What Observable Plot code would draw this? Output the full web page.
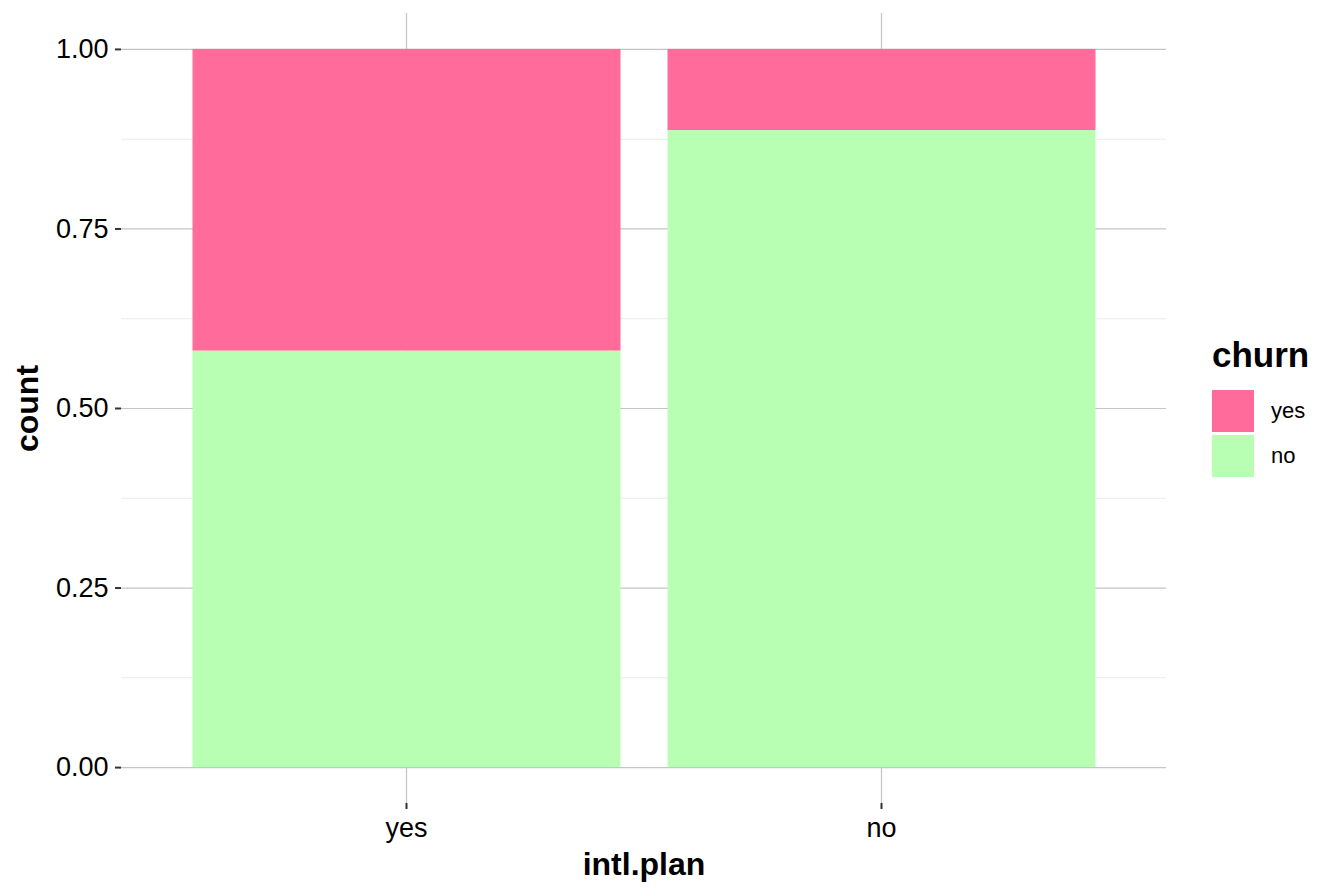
<!DOCTYPE html>
<html>
<head>
<meta charset="utf-8">
<script src="https://cdn.jsdelivr.net/npm/d3@7"></script>
<script src="https://cdn.jsdelivr.net/npm/@observablehq/plot@0.6"></script>
<style>
  html, body { margin: 0; padding: 0; background: #fff; }
  #wrap { position: relative; width: 1344px; height: 895px; font-family: "Liberation Sans", Arial, Helvetica, sans-serif; }
  #legend { position: absolute; left: 1212px; top: 335px; color: #000; }
  #legend .title { font-weight: bold; font-size: 35px; line-height: 40px; height: 40px; margin-bottom: 13px; }
  #legend .row { display: flex; align-items: center; height: 45px; }
  #legend .key { width: 42px; height: 42px; margin-right: 17px; }
  #legend .lab { font-size: 22px; }
</style>
</head>
<body>
<div id="wrap"></div>
<script>
// Data
const intlPlan = ["yes", "no"];
const churnLevels = ["yes", "no"];
const churnYesShare = [0.42, 0.113];
const churnNoShare = [0.58, 0.887];
const churnColors = ["#FF6B9B", "#B8FFB3"];
const yTicks = [0, 0.25, 0.5, 0.75, 1];
const yMinorTicks = [0.125, 0.375, 0.625, 0.875];

const rows = [];
intlPlan.forEach((p, i) => {
  rows.push({plan: p, churn: "no", value: churnNoShare[i]});
  rows.push({plan: p, churn: "yes", value: churnYesShare[i]});
});

const font = '"Liberation Sans", Arial, Helvetica, sans-serif';

const chart = Plot.plot({
  width: 1344,
  height: 895,
  marginLeft: 121,
  marginRight: 178,
  marginTop: 13,
  marginBottom: 92,
  style: {fontFamily: font, fontSize: "27px", color: "#000", background: "#fff"},
  x: {domain: intlPlan, paddingInner: 0.1, paddingOuter: 0.15, align: 0.5, axis: null},
  y: {domain: [-0.05, 1.05], axis: null},
  color: {domain: churnLevels, range: churnColors},
  marks: [
    Plot.ruleY(yMinorTicks, {stroke: "#ebebeb", strokeWidth: 1.1}),
    Plot.ruleY(yTicks, {stroke: "#c4c4c4", strokeWidth: 1.2}),
    Plot.ruleX(intlPlan, {x: d => d, stroke: "#c4c4c4", strokeWidth: 1.2}),
    Plot.barY(rows, Plot.stackY({order: ["no", "yes"]}, {x: "plan", y: "value", fill: "churn", z: "churn", inset: 0, dx: 0.5})),
    Plot.axisY(yTicks, {tickSize: 6, tickPadding: 7, tickFormat: d3.format(".2f"), stroke: "#333", strokeWidth: 2, fontSize: 27, fill: "#000", label: null}),
    Plot.axisX(intlPlan, {tickSize: 6, tickPadding: 8, stroke: "#333", strokeWidth: 2, fontSize: 27, fill: "#000", label: null}),
    Plot.text(["intl.plan"], {frameAnchor: "bottom", lineAnchor: "bottom", textAnchor: "middle", dy: 71, fontSize: 32, fontWeight: "bold", fill: "#000"}),
    Plot.text(["count"], {frameAnchor: "left", lineAnchor: "bottom", textAnchor: "middle", rotate: -90, dx: -84, fontSize: 32, fontWeight: "bold", fill: "#000"})
  ]
});

const wrap = document.getElementById("wrap");
wrap.appendChild(chart);

// Legend
const legend = document.createElement("div");
legend.id = "legend";
const t = document.createElement("div");
t.className = "title";
t.textContent = "churn";
legend.appendChild(t);
churnLevels.forEach((lv, i) => {
  const r = document.createElement("div");
  r.className = "row";
  const k = document.createElement("div");
  k.className = "key";
  k.style.background = churnColors[i];
  const l = document.createElement("span");
  l.className = "lab";
  l.textContent = lv;
  r.appendChild(k);
  r.appendChild(l);
  legend.appendChild(r);
});
wrap.appendChild(legend);
</script>
</body>
</html>
